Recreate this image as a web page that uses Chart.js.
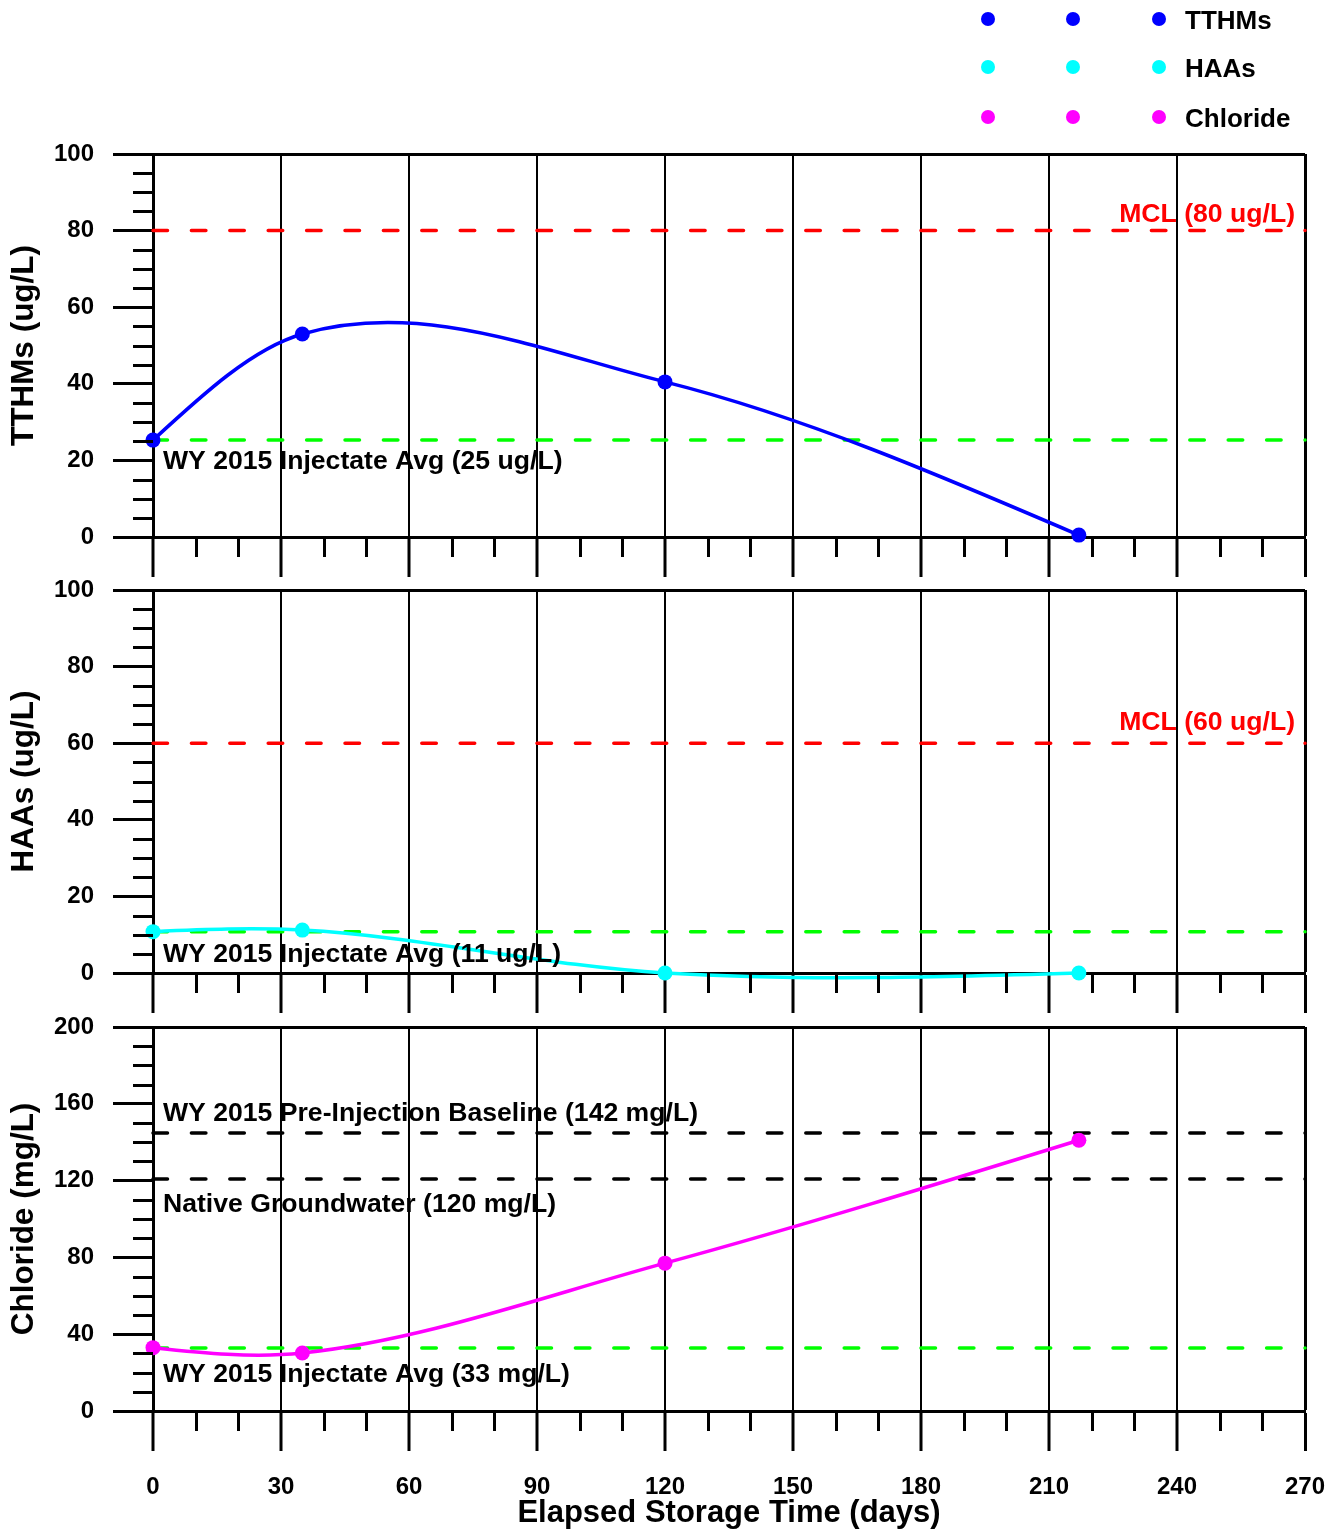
<!DOCTYPE html>
<html><head><meta charset="utf-8">
<script src="https://cdn.jsdelivr.net/npm/chart.js@4.4.1/dist/chart.umd.min.js"></script>
<style>
html,body{margin:0;padding:0;background:#fff;}
#wrap{position:relative;width:1341px;height:1539px;overflow:hidden;background:#fff;}
canvas{position:absolute;left:0;}
.lg{position:absolute;font:bold 26px 'Liberation Sans',Arial,sans-serif;color:#000;line-height:30px;white-space:nowrap;}
.dot{position:absolute;width:14px;height:14px;border-radius:50%;}
</style></head>
<body><div id="wrap">
<canvas id="c1" width="1350" height="580" style="top:0px"></canvas>
<canvas id="c2" width="1350" height="465" style="top:550px"></canvas>
<canvas id="c3" width="1350" height="552" style="top:987px"></canvas>
<div id="legend"></div>
</div>
<script>
// ---------------- data ----------------
const days = [0, 35, 120, 217];
const tthms = [25.3, 53, 40.5, 0.5];
const haas = [10.8, 11.2, 0, 0];
const chloride = [33, 30.2, 77, 141];

const seriesNames = ['TTHMs', 'HAAs', 'Chloride'];
const seriesColors = ['#0000ff', '#00ffff', '#ff00ff'];

const xTickValues = [0, 30, 60, 90, 120, 150, 180, 210, 240, 270];
const yTicksUg = [0, 20, 40, 60, 80, 100];
const yTicksMg = [0, 40, 80, 120, 160, 200];

const tthmsMCL = 80, tthmsInjectate = 25.3;
const haasMCL = 60, haasInjectate = 10.8;
const chlBaseline = 144.8, chlNative = 120.8, chlInjectate = 32.8;

const FONT = "'Liberation Sans', Arial, Helvetica, sans-serif";
Chart.defaults.font.family = FONT;
Chart.defaults.font.weight = 'bold';
Chart.defaults.color = '#000';

// ---------------- legend (HTML) ----------------
(function(){
  const lg = document.getElementById('legend');
  const rowsY = [19, 67, 117];
  const textY = [19.5, 68, 117.5];
  const colsX = [988, 1073, 1159];
  seriesNames.forEach((n, i) => {
    colsX.forEach(cx => {
      const d = document.createElement('div');
      d.className = 'dot';
      d.style.left = (cx - 7) + 'px';
      d.style.top = (rowsY[i] - 7) + 'px';
      d.style.background = seriesColors[i];
      lg.appendChild(d);
    });
    const t = document.createElement('div');
    t.className = 'lg';
    t.style.left = '1185px';
    t.style.top = (textY[i] - 15) + 'px';
    t.textContent = n;
    lg.appendChild(t);
  });
})();

// ---------------- plugin: cubic Hermite spline (averaged secant tangents, natural ends) ----------------
// Sets the Bezier control points Chart.js uses for the line, computed from the data through the scales.
const hermitePlugin = {
  id: 'hermite',
  beforeDatasetDraw(chart, args) {
    const ds = chart.data.datasets[args.index];
    if (!ds.hermite) return;
    const meta = args.meta;
    meta.dataset.updateControlPoints(chart.chartArea, 'x');
    const pts = meta.data, n = pts.length;
    if (n < 2) return;
    const xs = chart.scales.x, ys = chart.scales.y;
    const X = ds.data.map(d => d.x), Y = ds.data.map(d => d.y);
    const s = [];
    for (let i = 0; i < n - 1; i++) s.push((Y[i + 1] - Y[i]) / (X[i + 1] - X[i]));
    const m = new Array(n);
    if (n === 2) { m[0] = m[1] = s[0]; }
    else {
      for (let i = 1; i < n - 1; i++) m[i] = (s[i - 1] + s[i]) / 2;
      m[0] = (3 * s[0] - m[1]) / 2;
      m[n - 1] = (3 * s[n - 2] - m[n - 2]) / 2;
    }
    for (let i = 0; i < n - 1; i++) {
      const h = X[i + 1] - X[i];
      pts[i].cp2x = xs.getPixelForValue(X[i] + h / 3);
      pts[i].cp2y = ys.getPixelForValue(Y[i] + m[i] * h / 3);
      pts[i + 1].cp1x = xs.getPixelForValue(X[i + 1] - h / 3);
      pts[i + 1].cp1y = ys.getPixelForValue(Y[i + 1] - m[i + 1] * h / 3);
    }
  }
};

// ---------------- plugin: minor ticks + annotations ----------------
const panelPlugin = {
  id: 'panelExtras',
  afterDatasetsDraw(chart, args, opts) {
    const {ctx, chartArea} = chart;
    const {left, right, top, bottom} = chartArea;
    const xs = chart.scales.x, ys = chart.scales.y;
    ctx.save();
    ctx.strokeStyle = '#000';
    ctx.lineWidth = 3;
    ctx.lineCap = 'butt';
    ctx.beginPath();
    for (let v = xs.min; v <= xs.max; v += opts.xMinor) {
      if (v % opts.xMajor === 0) continue;
      const px = Math.round(xs.getPixelForValue(v)) + 0.5;
      ctx.moveTo(px, bottom); ctx.lineTo(px, bottom + 20);
    }
    for (let v = ys.min; v <= ys.max; v += opts.yMinor) {
      if (v % opts.yMajor === 0) continue;
      const py = Math.round(ys.getPixelForValue(v)) + 0.5;
      ctx.moveTo(left - 20, py); ctx.lineTo(left, py);
    }
    ctx.stroke();
    ctx.font = 'bold 26.6px ' + FONT;
    ctx.textBaseline = 'middle';
    (opts.labels || []).forEach(a => {
      ctx.fillStyle = a.color;
      const y = ys.getPixelForValue(a.value) + a.dy;
      if (a.align === 'right') { ctx.textAlign = 'right'; ctx.fillText(a.text, right - 10, y); }
      else { ctx.textAlign = 'left'; ctx.fillText(a.text, left + 10, y); }
    });
    ctx.restore();
  }
};

// ---------------- helpers ----------------
function xScale(showLabels, h) {
  return {
    type: 'linear', min: 0, max: 270,
    afterBuildTicks: s => { s.ticks = xTickValues.map(v => ({value: v})); },
    afterFit: s => { s.height = h; },
    ticks: { display: showLabels, font: {size: 24, weight: 'bold'}, color: '#000', padding: 22, maxRotation: 0, autoSkip: false, callback: v => String(v) },
    grid: { display: true, drawOnChartArea: true, drawTicks: true, color: '#000',
            lineWidth: c => (c.tick && c.tick.value === 270) ? 3 : 2,
            tickColor: '#000', tickWidth: 3, tickLength: 40 },
    border: { display: true, color: '#000', width: 3 },
    title: showLabels ? { display: true, text: 'Elapsed Storage Time (days)', font: {size: 31, weight: 'bold'}, color: '#000', padding: {top: 0, bottom: 7} } : { display: false }
  };
}
function yScale(max, tickArr, title) {
  return {
    type: 'linear', min: 0, max: max,
    afterBuildTicks: s => { s.ticks = tickArr.map(v => ({value: v})); },
    afterFit: s => { s.width = 153; },
    ticks: { font: {size: 24, weight: 'bold'}, color: '#000', padding: 19, autoSkip: false, callback: v => String(v) },
    grid: { display: true, drawOnChartArea: true, drawTicks: true,
            color: c => (c.tick && c.tick.value === max) ? '#000' : 'rgba(0,0,0,0)',
            lineWidth: 3, tickColor: '#000', tickWidth: 3, tickLength: 40 },
    border: { display: true, color: '#000', width: 3 },
    title: { display: true, text: title, font: {size: 31.5, weight: 'bold'}, color: '#000', padding: {top: 5, bottom: 0} }
  };
}
function refLine(value, color) {
  return { data: [{x: 0, y: value}, {x: 270, y: value}], borderColor: color, borderWidth: 3.5,
           borderDash: [14.5, 23.9], borderCapStyle: 'round', pointRadius: 0, tension: 0, clip: false, order: 2 };
}
function series(ys, color) {
  return { data: days.map((d, i) => ({x: d, y: ys[i]})), borderColor: color, backgroundColor: color,
           pointBackgroundColor: color, pointBorderWidth: 0, pointRadius: 7.5, borderWidth: 3.5,
           tension: 0.4, hermite: true, clip: false, order: 1 };
}
function makeChart(id, cfg) {
  return new Chart(document.getElementById(id), {
    type: 'line',
    data: { datasets: cfg.datasets },
    options: {
      responsive: false, animation: false, devicePixelRatio: 1, events: [],
      layout: { padding: { top: cfg.padTop, right: 45, left: 0, bottom: 0 } },
      elements: { line: { capBezierPoints: false } },
      plugins: { legend: {display: false}, tooltip: {enabled: false},
                 panelExtras: { xMinor: 10, xMajor: 30, yMinor: cfg.yMinor, yMajor: cfg.yMajor, labels: cfg.labels } },
      scales: { x: xScale(cfg.showX, cfg.xHeight), y: yScale(cfg.yMax, cfg.yTicks, cfg.title) }
    },
    plugins: [hermitePlugin, panelPlugin]
  });
}

// ---------------- charts ----------------
makeChart('c1', {
  padTop: 154, xHeight: 43, showX: false, yMax: 100, yTicks: yTicksUg, yMinor: 5, yMajor: 20,
  title: 'TTHMs (ug/L)',
  datasets: [series(tthms, seriesColors[0]), refLine(tthmsMCL, '#ff0000'), refLine(tthmsInjectate, '#00ff00')],
  labels: [
    {text: 'MCL (80 ug/L)', value: tthmsMCL, dy: -16, align: 'right', color: '#ff0000'},
    {text: 'WY 2015 Injectate Avg (25 ug/L)', value: tthmsInjectate, dy: 22, align: 'left', color: '#000'}
  ]
});
makeChart('c2', {
  padTop: 40, xHeight: 42, showX: false, yMax: 100, yTicks: yTicksUg, yMinor: 5, yMajor: 20,
  title: 'HAAs (ug/L)',
  datasets: [series(haas, seriesColors[1]), refLine(haasMCL, '#ff0000'), refLine(haasInjectate, '#00ff00')],
  labels: [
    {text: 'MCL (60 ug/L)', value: haasMCL, dy: -21, align: 'right', color: '#ff0000'},
    {text: 'WY 2015 Injectate Avg (11 ug/L)', value: haasInjectate, dy: 23, align: 'left', color: '#000'}
  ]
});
makeChart('c3', {
  padTop: 40, xHeight: 128, showX: true, yMax: 200, yTicks: yTicksMg, yMinor: 10, yMajor: 40,
  title: 'Chloride (mg/L)',
  datasets: [series(chloride, seriesColors[2]), refLine(chlBaseline, '#000000'), refLine(chlNative, '#000000'), refLine(chlInjectate, '#00ff00')],
  labels: [
    {text: 'WY 2015 Pre-Injection Baseline (142 mg/L)', value: chlBaseline, dy: -19, align: 'left', color: '#000'},
    {text: 'Native Groundwater (120 mg/L)', value: chlNative, dy: 26, align: 'left', color: '#000'},
    {text: 'WY 2015 Injectate Avg (33 mg/L)', value: chlInjectate, dy: 27, align: 'left', color: '#000'}
  ]
});
</script>
</body></html>
